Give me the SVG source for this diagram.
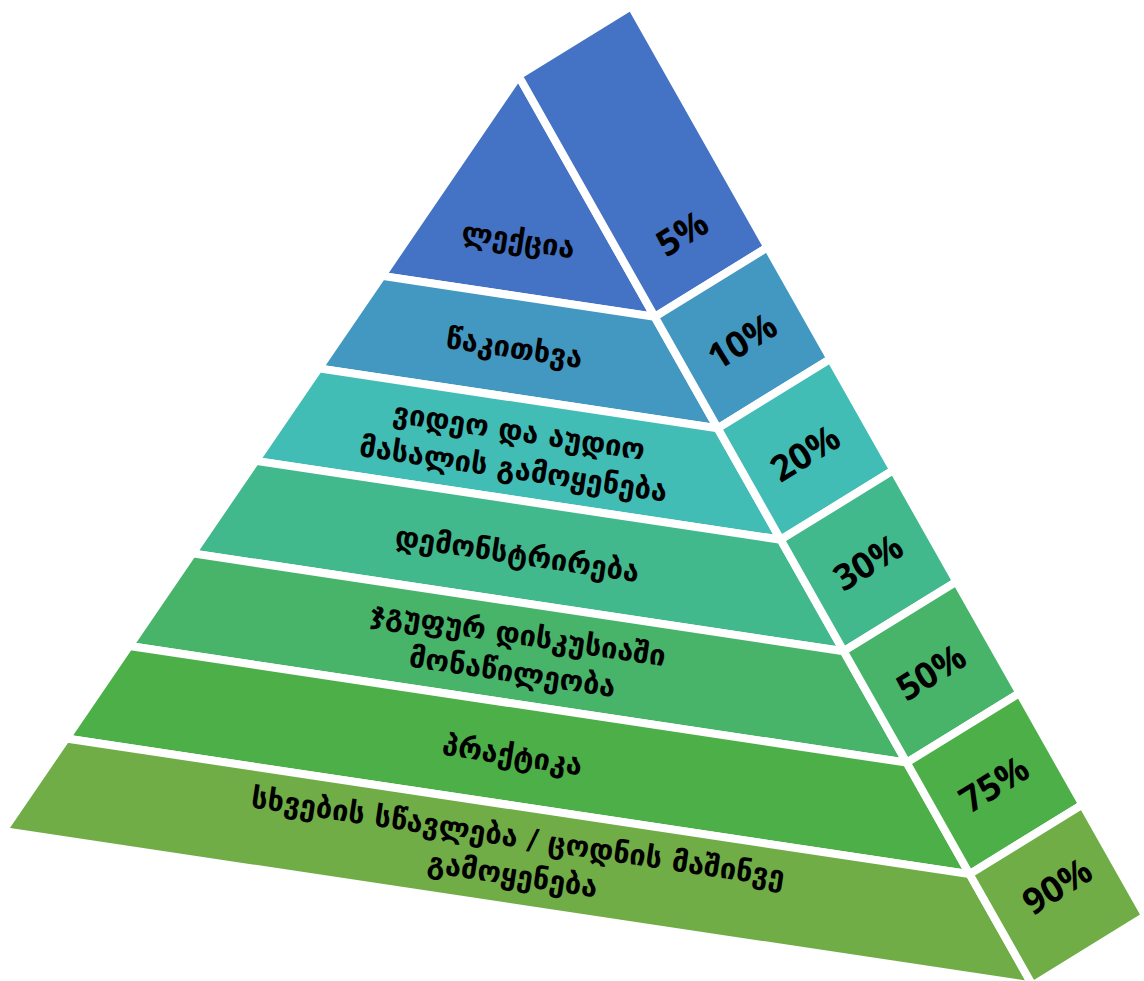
<svg xmlns="http://www.w3.org/2000/svg" width="1144" height="981" viewBox="0 0 1144 981">
  <style>
    .face { stroke: #ffffff; stroke-width: 8; stroke-linejoin: miter; }
    .lbl { font-family: 'DejaVu Sans', 'Noto Sans', sans-serif; font-weight: bold; font-size: 29px; fill: #000000; text-anchor: middle; }
    .pct { font-family: 'Open Sans', 'Liberation Sans', sans-serif; font-weight: bold; font-size: 36px; fill: #000000; text-anchor: middle; }
    .c1 { fill: #4472C4; }
    .c2 { fill: #4298C1; }
    .c3 { fill: #41BDB6; }
    .c4 { fill: #42B98C; }
    .c5 { fill: #47B46A; }
    .c6 { fill: #4CAF47; }
    .c7 { fill: #70AD47; }
  </style>
  <rect x="0" y="0" width="1144" height="981" fill="#ffffff"/>

  <!-- Level 1: apex -->
  <g id="level-lecture">
    <polygon class="face c1" points="518.5,75.7 654.7,316.8 381.9,275.9"/>
    <polygon class="face c1" points="518.5,75.7 631.3,6.2 767.5,247.3 654.7,316.8"/>
    <text class="lbl" transform="translate(518,242) rotate(8.53)"><tspan x="0" y="8">ლექცია</tspan></text>
    <text class="pct" transform="translate(682,233) rotate(-31.6)"><tspan x="0" y="13">5%</tspan></text>
  </g>

  <!-- Level 2 -->
  <g id="level-reading">
    <polygon class="face c2" points="381.9,275.9 654.7,316.8 717.7,428.3 318.7,368.4"/>
    <polygon class="face c2" points="654.7,316.8 767.5,247.3 830.5,358.8 717.7,428.3"/>
    <text class="lbl" transform="translate(514,350) rotate(8.53)"><tspan x="0" y="8">წაკითხვა</tspan></text>
    <text class="pct" transform="translate(742,341) rotate(-31.6)"><tspan x="0" y="13">10%</tspan></text>
  </g>

  <!-- Level 3 -->
  <g id="level-video">
    <polygon class="face c3" points="318.7,368.4 717.7,428.3 780.7,539.7 255.6,460.9"/>
    <polygon class="face c3" points="717.7,428.3 830.5,358.8 893.5,470.2 780.7,539.7"/>
    <text class="lbl" transform="translate(516,452) rotate(8.53)"><tspan x="0" y="-11">ვიდეო და აუდიო</tspan><tspan x="0" y="27">მასალის გამოყენება</tspan></text>
    <text class="pct" transform="translate(805,453) rotate(-31.6)"><tspan x="0" y="13">20%</tspan></text>
  </g>

  <!-- Level 4 -->
  <g id="level-demonstration">
    <polygon class="face c4" points="255.6,460.9 780.7,539.7 843.7,651.2 192.4,553.4"/>
    <polygon class="face c4" points="780.7,539.7 893.5,470.2 956.5,581.7 843.7,651.2"/>
    <text class="lbl" transform="translate(517,556) rotate(8.53)"><tspan x="0" y="8">დემონსტრირება</tspan></text>
    <text class="pct" transform="translate(868,562) rotate(-31.6)"><tspan x="0" y="13">30%</tspan></text>
  </g>

  <!-- Level 5 -->
  <g id="level-discussion">
    <polygon class="face c5" points="192.4,553.4 843.7,651.2 906.7,762.6 129.3,646.0"/>
    <polygon class="face c5" points="843.7,651.2 956.5,581.7 1019.5,693.1 906.7,762.6"/>
    <text class="lbl" transform="translate(515,655) rotate(8.53)"><tspan x="0" y="-11">ჯგუფურ დისკუსიაში</tspan><tspan x="0" y="27">მონაწილეობა</tspan></text>
    <text class="pct" transform="translate(931,672) rotate(-31.6)"><tspan x="0" y="13">50%</tspan></text>
  </g>

  <!-- Level 6 -->
  <g id="level-practice">
    <polygon class="face c6" points="129.3,646.0 906.7,762.6 969.6,874.1 66.2,738.5"/>
    <polygon class="face c6" points="906.7,762.6 1019.5,693.1 1082.4,804.6 969.6,874.1"/>
    <text class="lbl" transform="translate(512,757) rotate(8.53)"><tspan x="0" y="8">პრაქტიკა</tspan></text>
    <text class="pct" transform="translate(994,784) rotate(-31.6)"><tspan x="0" y="13">75%</tspan></text>
  </g>

  <!-- Level 7: base -->
  <g id="level-teaching">
    <polygon class="face c7" points="66.2,738.5 969.6,874.1 1032.6,985.5 3,831"/>
    <polygon class="face c7" points="969.6,874.1 1082.4,804.6 1145.4,916 1032.6,985.5"/>
    <text class="lbl" transform="translate(515,858) rotate(8.53)"><tspan x="0" y="-11">სხვების სწავლება / ცოდნის მაშინვე</tspan><tspan x="0" y="27">გამოყენება</tspan></text>
    <text class="pct" transform="translate(1057,886) rotate(-31.6)"><tspan x="0" y="13">90%</tspan></text>
  </g>
</svg>
